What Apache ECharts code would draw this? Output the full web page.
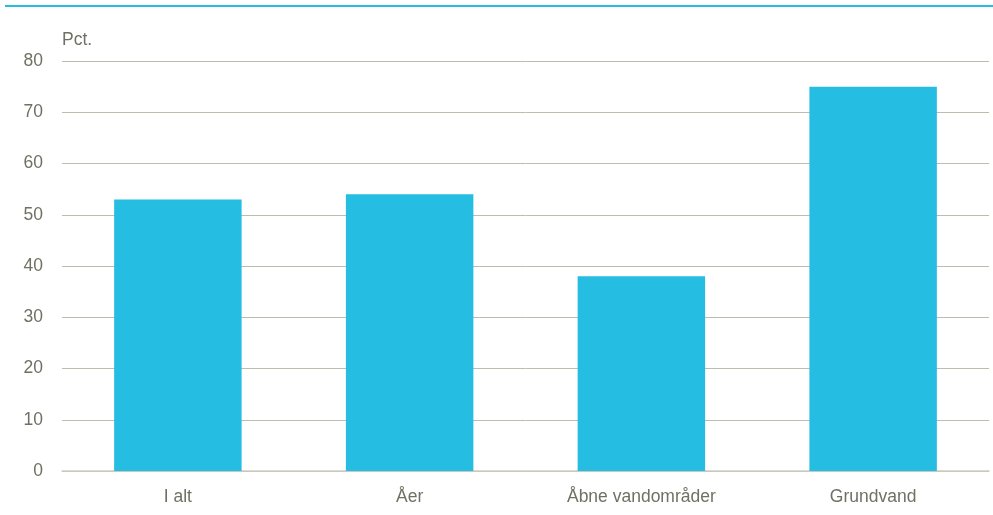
<!DOCTYPE html>
<html><head><meta charset="utf-8">
<script src="https://cdn.jsdelivr.net/npm/echarts@6/dist/echarts.min.js"></script>
<style>html,body{margin:0;padding:0;background:#fff}#c{width:993px;height:515px}</style>
</head><body><div id="c"></div>
<script>
const categories = ['I alt', 'Åer', 'Åbne vandområder', 'Grundvand'];
const values = [53, 54, 38, 75];
const yTicks = {min: 0, max: 80, interval: 10};
const unitLabel = 'Pct.';

const chart = echarts.init(document.getElementById('c'));
const txt = '#707063';
chart.setOption({
  animation: false,
  textStyle: {fontFamily: 'Liberation Sans, Arial, sans-serif'},
  graphic: [{
    type: 'line', shape: {x1: 5, y1: 6, x2: 993, y2: 6},
    style: {stroke: '#25bde2', lineWidth: 2}
  }],
  grid: {left: 62, right: 4, top: 61, bottom: 44},
  xAxis: {
    type: 'category', data: categories,
    axisLine: {show: true, lineStyle: {color: '#cfcdc5', width: 1.5}},
    axisTick: {show: false},
    axisLabel: {color: txt, fontSize: 17.5, margin: 17, fontFamily: 'Liberation Sans'}
  },
  yAxis: {
    type: 'value', min: yTicks.min, max: yTicks.max, interval: yTicks.interval,
    name: unitLabel, nameLocation: 'end', nameGap: 12,
    nameTextStyle: {color: txt, fontSize: 17.5, align: 'left', fontFamily: 'Liberation Sans'},
    axisLine: {show: false}, axisTick: {show: false},
    axisLabel: {color: txt, fontSize: 17.5, margin: 19, fontFamily: 'Liberation Sans'},
    splitLine: {lineStyle: {color: '#bfbbad', width: 1}}
  },
  series: [{
    type: 'bar', data: values, barWidth: '55%',
    itemStyle: {color: '#25bde2'}
  }]
});
</script></body></html>
